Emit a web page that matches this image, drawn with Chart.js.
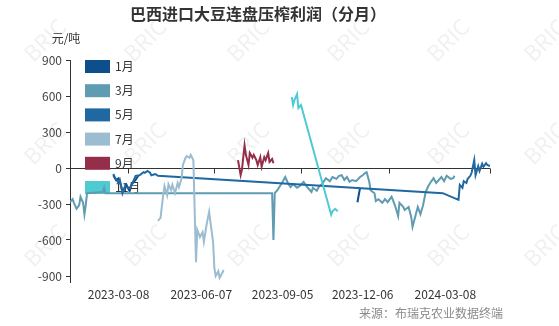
<!DOCTYPE html>
<html>
<head>
<meta charset="utf-8">
<script src="https://cdn.jsdelivr.net/npm/chart.js@4.4.1/dist/chart.umd.min.js"></script>
<style>
    html, body { margin: 0; padding: 0; background: #fff; }
    #wrap { position: relative; width: 559px; height: 326px; }
</style>
</head>
<body>
<div id="wrap"><canvas id="chart" width="559" height="326"></canvas></div>
<script>
const TITLE = '巴西进口大豆连盘压榨利润（分月）';
const UNIT = '元/吨';
const SOURCE = '来源：布瑞克农业数据终端';

// x is a trading-day index; labels and tick marks sit at these indices
const X_LABELS = ['2023-03-08', '2023-06-07', '2023-09-05', '2023-12-06', '2024-03-08'];
const X_LABEL_IDX = [37, 100, 162, 223, 286];
const X_TICK_IDX = [44, 110, 176, 243, 320];
const X_MAX = 320;
const Y_TICKS = [-900, -600, -300, 0, 300, 600, 900];

const SERIES_NAMES = ['1月', '3月', '5月', '7月', '9月', '11月'];
const SERIES_COLORS = ['#0c4f8b', '#5f9bb1', '#2068a2', '#9cbcd0', '#952f49', '#4ecad3'];

// [index, 元/吨]
const M1 = [
    [33, -60], [35, -100], [37, -85], [39, -150], [40, -200], [43, -140], [45, -185],
    [47, -135], [50, -100], [52, -65], [53, null],
    [219, -285], [220, -225], [221, -165]
];
const M3 = [
    [0, -285], [2, -260], [3, -290], [5, -340], [7, -310], [8, -240], [10, -290],
    [11, -385], [12, -310], [13, -210], [25, -200], [26, -165], [27, -210],
    [154, -210], [155, -600], [156, -210], [158, -185], [160, -150], [162, -115],
    [164, -75], [166, -125], [168, -160], [170, -135], [173, -165], [175, -150],
    [178, -115], [180, -150], [182, -175], [184, -200], [185, -165], [188, -190],
    [190, -150], [192, -135], [195, -85], [198, -110], [200, -75], [203, -90],
    [205, -65], [207, -60], [209, -100], [211, -75], [213, -115], [215, -100],
    [218, -110], [221, -75], [223, -60], [225, -40], [226, -35], [228, -115],
    [229, -185], [232, -210], [233, -275], [235, -260], [238, -290], [240, -260],
    [242, -285], [245, -240], [246, -265], [248, -325], [250, -400], [251, -290],
    [254, -325], [255, -350], [258, -325], [260, -410], [261, -490], [264, -365],
    [265, -325], [267, -385], [269, -310], [271, -200], [273, -150], [275, -115],
    [277, -85], [279, -125], [281, -100], [283, -75], [285, -110], [287, -65],
    [290, -90], [292, -85], [293, -65]
];
const M5 = [
    [33, -50], [34, -75], [37, -125], [38, -100], [40, -210], [42, -150], [43, -160],
    [46, -165], [48, -115], [50, -65], [53, -60], [56, -35], [57, -40], [59, -25],
    [61, -40], [62, -60], [65, -50], [67, -65],
    [284, -210], [296, -265], [297, -140], [299, -165], [300, -110], [302, -125],
    [303, -90], [305, -65], [306, -40], [308, 65], [309, -60], [311, 15], [312, -25],
    [314, 35], [315, 10], [317, 40], [318, 25], [320, 15]
];
const M7 = [
    [67, -440], [69, -415], [71, -225], [72, -150], [74, -225], [75, -135], [77, -185],
    [78, -140], [80, -210], [82, -125], [83, -160], [85, -85], [86, 25], [88, 85],
    [89, 100], [91, 85], [92, 110], [94, 65], [96, -785], [97, -515], [99, -575],
    [101, -535], [102, -615], [104, -475], [106, -365], [107, -450], [109, -615],
    [110, -835], [111, -900], [113, -860], [114, -915], [116, -875], [117, -850]
];
const M9 = [
    [128, 65], [130, -60], [131, -15], [133, 190], [134, 110], [136, 25], [137, 125],
    [139, 85], [140, 110], [142, 65], [143, 25], [145, 90], [146, 10], [148, 90],
    [149, 65], [151, 125], [152, 50], [154, 75], [155, 40]
];
const M11 = [
    [169, 590], [170, 525], [171, 565], [173, 615], [174, 500], [176, 525], [177, 485],
    [199, -390], [200, -360], [202, -340], [204, -360]
];
const SERIES_DATA = [M1, M3, M5, M7, M9, M11];

const FONT = '"Noto Sans CJK SC", "Microsoft YaHei", sans-serif';
Chart.defaults.font.family = FONT;
Chart.defaults.font.size = 12;
Chart.defaults.color = '#444';

// Background, watermark and header/footer texts.
const decorPlugin = {
    id: 'decor',
    beforeDraw(chart) {
        const ctx = chart.ctx;
        ctx.save();
        ctx.fillStyle = '#fff';
        ctx.fillRect(0, 0, chart.width, chart.height);
        ctx.font = '22px ' + FONT;
        ctx.fillStyle = 'rgba(0, 0, 0, 0.06)';
        ctx.textAlign = 'center';
        ctx.textBaseline = 'middle';
        [40, 143, 245].forEach(y => {
            [45, 145, 248, 348, 448, 545].forEach(x => {
                ctx.save();
                ctx.translate(x, y);
                ctx.rotate(-Math.PI / 4);
                ctx.fillText('BRIC', 0, 0);
                ctx.restore();
            });
        });
        ctx.restore();
    },
    beforeDatasetsDraw(chart) {
        const ctx = chart.ctx;
        const x = chart.scales.x;
        const y = chart.scales.y;
        const y0 = Math.round(y.getPixelForValue(0)) + 0.5;
        ctx.save();
        // tick marks hanging off the zero line
        ctx.strokeStyle = '#333';
        ctx.lineWidth = 1;
        X_TICK_IDX.forEach(idx => {
            const px = Math.round(x.getPixelForValue(idx)) + 0.5;
            ctx.beginPath();
            ctx.moveTo(px, y0);
            ctx.lineTo(px, y0 + 5);
            ctx.stroke();
        });
        // legend sits under the lines
        ctx.font = '12px ' + FONT;
        ctx.textAlign = 'left';
        ctx.textBaseline = 'middle';
        SERIES_NAMES.forEach((name, i) => {
            const cy = 66.5 + i * 24.2;
            ctx.fillStyle = SERIES_COLORS[i];
            ctx.fillRect(85, cy - 6.5, 25, 13);
            ctx.fillStyle = '#333';
            ctx.fillText(name, 115, cy);
        });
        ctx.restore();
    },
    afterDraw(chart) {
        const ctx = chart.ctx;
        ctx.save();
        ctx.textBaseline = 'middle';
        ctx.fillStyle = '#333';
        ctx.font = 'bold 16px ' + FONT;
        ctx.textAlign = 'center';
        ctx.fillText(TITLE, 258, 14);
        ctx.font = '12px ' + FONT;
        ctx.fillText(UNIT, 66, 38);
        ctx.fillStyle = '#8a8a8a';
        ctx.textAlign = 'right';
        ctx.fillText(SOURCE, 503, 313);
        ctx.restore();
    }
};

new Chart(document.getElementById('chart'), {
    type: 'line',
    data: {
        datasets: SERIES_DATA.map((points, i) => ({
            label: SERIES_NAMES[i],
            data: points.map(p => ({ x: p[0], y: p[1] })),
            borderColor: SERIES_COLORS[i],
            backgroundColor: SERIES_COLORS[i],
            borderWidth: 2,
            pointRadius: 0,
            tension: 0,
            spanGaps: false,
            order: SERIES_DATA.length - i
        }))
    },
    options: {
        responsive: false,
        animation: false,
        events: [],
        layout: { padding: { left: 30, top: 60, right: 69, bottom: 0 } },
        plugins: {
            legend: { display: false },
            title: { display: false },
            tooltip: { enabled: false }
        },
        scales: {
            x: {
                type: 'linear',
                min: 0,
                max: X_MAX,
                afterBuildTicks(scale) {
                    scale.ticks = X_LABEL_IDX.map(v => ({ value: v }));
                },
                afterFit(scale) { scale.height = 44; },
                grid: { display: false, drawTicks: false },
                border: { display: false },
                ticks: {
                    autoSkip: false,
                    maxRotation: 0,
                    padding: 5,
                    color: '#333',
                    callback: (value, index) => X_LABELS[index]
                }
            },
            y: {
                min: -950,
                max: 900,
                afterBuildTicks(scale) {
                    scale.ticks = Y_TICKS.map(v => ({ value: v }));
                },
                afterFit(scale) { scale.width = 40; },
                grid: {
                    color: ctx => (ctx.tick && ctx.tick.value === 0 ? '#333' : 'rgba(0,0,0,0)'),
                    tickColor: '#333',
                    tickLength: 4,
                    drawTicks: true
                },
                border: { display: true, color: '#333', width: 1 },
                ticks: { padding: 4, color: '#444' }
            }
        }
    },
    plugins: [decorPlugin]
});
</script>
</body>
</html>
